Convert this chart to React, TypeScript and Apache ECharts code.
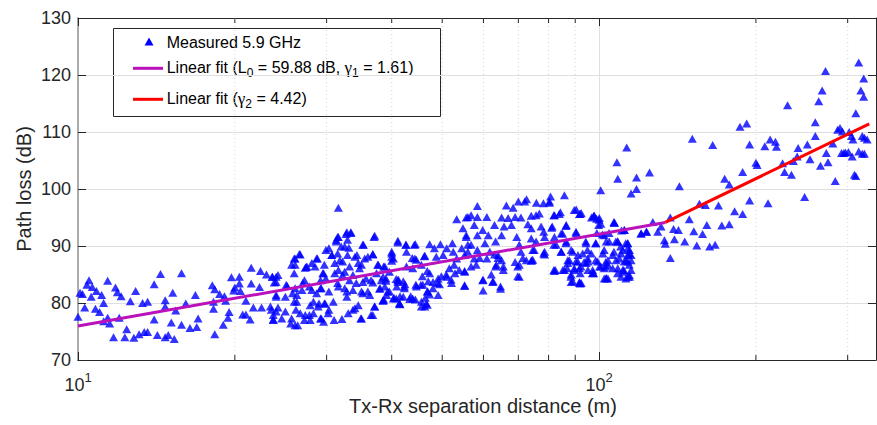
import React, { useEffect, useRef } from 'react';
import * as echarts from 'echarts';

// ---- axis ticks ----
const yMin = 70;
const yMax = 130;
const yStep = 10;
const xMin = 10;
const xMax = 340;
const xTickLabels: { value: number; base: string; exp: string }[] = [
  { value: 10, base: '10', exp: '1' },
  { value: 100, base: '10', exp: '2' },
];
const xMinorTicks = [20, 30, 40, 50, 60, 70, 80, 90, 200, 300];

// ---- texts ----
const xAxisTitle = 'Tx-Rx separation distance (m)';
const yAxisTitle = 'Path loss (dB)';
const measuredLabel = 'Measured 5.9 GHz';
const fitNearLabel = 'Linear fit (L0 = 59.88 dB, γ1 = 1.61)';
const fitFarLabel = 'Linear fit (γ2 = 4.42)';

// ---- fit lines (end points) ----
const fitNear = [[10, 75.98], [134, 94.13]];
const fitFar = [[134, 94.13], [330, 111.43]];

// ---- measured points [distance (m), path loss (dB)] ----
const measuredNear = [
  [10.09, 81.8], [10.2, 81.6], [10.0, 77.6], [10.3, 79.2], [10.5, 84.0], [10.4, 83.2], [10.65, 82.8], [10.6, 81.1],
  [10.8, 79.0], [10.85, 82.1], [11.1, 81.4], [11.2, 80.0], [11.0, 78.4], [11.2, 76.8], [11.4, 77.4], [11.5, 76.4],
  [11.4, 83.9], [11.8, 82.7], [11.9, 81.9], [12.1, 81.2], [12.0, 77.4], [11.7, 74.0], [12.4, 75.4], [12.3, 74.0],
  [12.6, 80.3], [12.9, 82.1], [12.8, 73.9], [13.1, 74.5], [13.3, 80.0], [13.4, 74.9], [13.6, 74.9], [13.6, 80.2],
  [14.0, 83.3], [14.0, 77.1], [14.2, 74.4], [14.4, 85.1], [14.7, 80.5], [14.7, 79.4], [14.7, 74.0], [14.9, 74.4],
  [15.2, 81.8], [15.1, 76.6], [15.3, 73.7], [15.4, 78.7], [15.8, 76.2], [15.8, 85.2], [16.1, 79.9], [16.4, 75.6],
  [16.8, 81.4], [16.9, 75.8], [17.0, 77.3], [18.1, 83.1], [18.2, 79.0], [18.2, 80.2], [18.3, 74.5], [18.3, 82.4],
  [18.7, 81.6], [19.0, 76.2], [19.1, 81.2], [19.2, 80.4], [19.5, 78.4], [19.4, 77.4], [19.7, 84.5], [20.0, 82.7],
  [20.4, 84.6], [19.9, 82.2], [20.4, 83.4], [20.5, 82.1], [21.0, 80.4], [20.7, 78.0], [21.0, 78.0], [21.5, 86.2],
  [21.5, 83.4], [21.7, 79.2], [21.4, 77.1], [22.3, 82.8], [22.4, 85.6], [22.5, 79.2], [23.0, 85.0], [23.4, 79.4],
  [23.6, 84.6], [23.7, 77.9], [23.7, 77.1], [24.0, 83.7], [24.0, 81.1], [24.2, 84.9], [24.2, 79.2],
];

const measuredMid = [
  [31.6, 96.7], [32.8, 92.4], [31.6, 91.6], [31.3, 91.1], [33.4, 92.4], [32.9, 91.1], [32.0, 89.9], [33.1, 89.7],
  [35.2, 90.2], [37.1, 91.8], [41.1, 90.9], [42.6, 90.2], [44.4, 90.3], [47.3, 90.3], [48.3, 89.6], [49.6, 90.3],
  [51.0, 89.6], [52.3, 90.5], [53.3, 94.7], [55.6, 95.0], [54.8, 93.1], [55.6, 91.6], [54.5, 89.6], [56.0, 90.2],
  [26.7, 88.5], [26.1, 87.8], [27.5, 86.4], [28.1, 87.0], [28.8, 87.8], [30.3, 89.6], [30.7, 88.4], [31.8, 87.5],
  [32.9, 88.4], [34.3, 88.4], [36.0, 88.1], [36.8, 88.5], [34.5, 87.0], [37.7, 86.7], [38.8, 86.4], [40.0, 89.0],
  [40.0, 88.1], [40.0, 87.4], [42.7, 89.0], [44.3, 87.8], [46.3, 88.3], [48.7, 88.1], [50.2, 88.4], [52.5, 89.0],
  [53.3, 87.8], [55.2, 88.4], [26.1, 86.7], [26.0, 85.2], [24.0, 84.6], [23.6, 84.6], [23.8, 83.6], [27.3, 86.2],
  [29.6, 85.2], [29.2, 84.0], [31.1, 85.2], [31.6, 85.8], [32.5, 85.5], [33.7, 84.9], [34.7, 86.1], [35.7, 84.3],
  [37.4, 85.2], [38.5, 84.6], [39.6, 85.5], [40.8, 84.2], [42.7, 86.4], [43.9, 86.1], [45.6, 86.7], [47.3, 85.2],
  [49.1, 84.3], [51.0, 84.6], [52.9, 85.2], [55.2, 85.5], [25.2, 83.0], [26.1, 82.6], [27.0, 83.5], [28.1, 82.3],
  [29.2, 82.6], [30.3, 82.0], [31.6, 82.9], [32.8, 82.0], [33.7, 82.3], [35.2, 83.7], [36.8, 83.6], [37.9, 82.5],
  [39.0, 83.9], [41.1, 83.7], [42.4, 83.3], [44.6, 82.9], [45.9, 83.2], [46.9, 82.0], [48.0, 83.7], [49.4, 83.3],
  [52.1, 83.5], [55.2, 83.0], [24.0, 81.4], [25.0, 81.1], [26.3, 80.2], [26.3, 81.4], [27.9, 79.6], [29.0, 79.9],
  [29.8, 79.9], [30.9, 80.2], [32.8, 81.1], [34.5, 79.6], [35.2, 81.7], [36.3, 81.4], [37.1, 79.4], [38.5, 80.4],
  [39.6, 82.0], [40.8, 80.8], [42.1, 81.1], [43.3, 80.7], [45.6, 80.2], [46.6, 79.9], [49.1, 81.4], [23.5, 78.8],
  [24.0, 78.5], [25.0, 78.5], [23.7, 77.0], [24.6, 77.3], [25.6, 76.4], [26.1, 76.1], [26.7, 78.2], [27.3, 77.9],
  [28.3, 78.2], [27.9, 77.0], [29.2, 77.3], [29.6, 76.7], [30.3, 78.8], [31.0, 77.0], [32.1, 77.2], [33.0, 78.2],
  [33.7, 78.8], [34.9, 77.3], [36.5, 77.9], [41.4, 79.9], [46.3, 79.4],
];

const measuredMidDense = [
  [31.5, 91.6], [32.7, 92.1], [33.4, 92.3], [37.0, 91.6], [31.3, 90.8], [32.5, 89.9], [35.3, 90.2], [29.9, 89.3],
  [26.6, 88.6], [26.0, 87.8], [28.7, 87.8], [30.7, 88.4], [31.5, 88.7], [34.0, 88.1], [35.5, 87.8], [36.8, 88.6],
  [25.7, 86.7], [27.4, 86.3], [28.5, 86.4], [29.7, 86.7], [31.1, 87.0], [32.2, 87.3], [33.2, 86.4], [35.0, 86.7],
  [37.6, 86.7], [40.0, 88.7], [41.1, 90.6], [44.2, 90.2], [42.6, 90.2], [25.1, 83.2], [25.8, 81.7], [26.0, 80.2],
  [26.2, 78.8], [25.7, 77.3], [27.2, 84.0], [26.9, 82.3], [27.8, 82.9], [28.7, 81.7], [29.3, 82.6], [29.5, 85.2],
  [29.9, 84.3], [31.5, 83.5], [32.2, 84.9], [32.5, 82.6], [33.2, 84.0], [34.2, 83.5], [35.0, 82.0], [36.0, 82.0],
  [36.5, 84.0], [38.2, 84.0], [38.8, 82.9], [39.1, 81.4], [41.1, 84.0], [42.3, 82.9], [44.5, 83.2], [28.3, 80.2],
  [28.9, 79.4], [29.7, 79.9], [30.2, 78.2], [29.3, 77.3], [27.8, 77.9], [27.2, 77.0], [26.4, 76.1], [34.0, 79.1],
  [35.0, 77.3], [36.8, 77.9], [37.1, 79.4], [38.5, 80.5], [40.3, 80.8], [41.4, 79.9], [43.9, 80.8], [45.6, 79.4],
];

const measuredMidLow = [
  [40.3, 87.8], [38.6, 86.4], [38.0, 82.6], [39.0, 84.3], [39.3, 82.0], [38.6, 80.6], [41.2, 84.1], [40.9, 82.9],
  [42.1, 83.8], [42.3, 82.6], [40.4, 80.9], [41.5, 81.2], [41.5, 79.8], [43.5, 81.2], [44.4, 80.6], [43.8, 87.9],
  [44.6, 87.6], [46.2, 88.2], [45.8, 84.7], [46.8, 85.6], [45.5, 83.2], [47.0, 83.8], [46.8, 82.0], [46.4, 80.9],
  [47.3, 81.5], [46.8, 79.7], [48.0, 82.6], [49.0, 83.5], [49.8, 84.7], [50.9, 85.0], [51.6, 86.1], [52.0, 84.1],
  [52.7, 86.7], [53.9, 85.8], [55.2, 85.6], [55.2, 83.1], [58.1, 86.7], [59.0, 87.9], [59.9, 84.1], [59.9, 82.2],
  [62.1, 85.0], [62.6, 83.8], [63.5, 86.7], [64.0, 87.9], [65.5, 86.4], [64.7, 82.5], [63.0, 88.5], [69.8, 84.7],
  [70.3, 86.7], [71.4, 87.9], [74.6, 87.6], [78.6, 88.5], [82.4, 85.8], [85.2, 85.8], [87.1, 87.0], [88.4, 85.0],
  [89.0, 83.8], [91.7, 83.5], [90.3, 87.3], [91.7, 86.1], [94.5, 87.0], [95.2, 85.8], [97.4, 85.3], [100.2, 86.4],
  [103.2, 84.4], [104.0, 86.7],
];

const measuredUpperMid = [
  [113, 107.3], [108.2, 104.7], [108.6, 101.8], [118, 102.0], [125, 102.9], [118, 100.0], [115.2, 99.2], [100.7, 99.8],
  [85.8, 98.9], [80.7, 98.7], [72.6, 98.2], [72, 97.8], [70, 97.8], [78.2, 97.5], [80.3, 97.8], [66.4, 97.1],
  [68.4, 96.7], [58.4, 97.0], [89.6, 96.3], [92, 95.6], [84.3, 95.9], [82.1, 95.4], [56, 95.1], [56.8, 95.4],
  [58.4, 95.1], [60.9, 95.1], [65, 95.0], [66.9, 94.9], [69, 95.1], [70.8, 95.0], [74.1, 95.3], [75.7, 95.4],
  [76.8, 95.7], [97.8, 95.3], [100, 94.6], [106.8, 94.2], [126.8, 94.2], [131.5, 93.4], [57.6, 93.7], [59.8, 92.8],
  [63, 93.7], [65.7, 93.4], [67.9, 93.7], [73, 93.8], [74.1, 93.1], [77.4, 93.4], [81.1, 93.2], [84.6, 92.2],
  [86.5, 93.7], [90.3, 92.5], [102.3, 91.9], [111.8, 92.8], [120.4, 92.2], [123.4, 92.5], [129.6, 92.5], [133.5, 91.0],
  [55.6, 91.9], [58.4, 91.9], [61.3, 91.9], [65, 91.9], [69.5, 91.6], [74.1, 91.3], [78.6, 91.6], [82.1, 91.6],
  [86.5, 90.8], [94.3, 90.8], [98.5, 90.5], [104.6, 90.8], [108.6, 90.8], [113.5, 90.5], [56.8, 90.2], [60.4, 90.5],
  [63.3, 90.8], [70.3, 90.2], [75.7, 90.8], [82.7, 90.2], [56, 89.0], [58.4, 89.3], [61.7, 89.0], [64, 88.4],
  [70.8, 89.0], [74.6, 89.3], [78.6, 89.0], [84.6, 89.0], [88.4, 89.3], [91.1, 88.4], [95, 89.3], [102.3, 89.3],
  [106.8, 89.0], [111, 89.3], [114.4, 89.3], [115.2, 88.4], [57.6, 87.8], [60.9, 87.8], [65, 87.5], [69, 87.2],
  [72.5, 87.5], [74.1, 87.4], [87.1, 87.5], [93.6, 87.2], [98.5, 87.5], [103, 87.2], [109.4, 87.8], [112.6, 87.5],
  [115.2, 87.5], [56.8, 86.4], [63.3, 86.4], [65.5, 85.8], [69.8, 86.4], [70.3, 84.6], [82.1, 85.6], [85.8, 85.8],
  [89.6, 86.1], [92, 85.2], [97.1, 85.2], [102.3, 86.1], [108.6, 86.1], [111.8, 85.5], [115.2, 85.8], [59.8, 84.0],
  [62.5, 83.7], [64.7, 82.9], [88.4, 83.7], [92, 83.4], [104, 84.3], [112.6, 84.3], [114.4, 84.6],
];

const measuredClusterDense = [
  [75.8, 97.6], [80.3, 97.6], [90.4, 96.4], [91.7, 95.6], [83.9, 95.6], [81.9, 95.4], [97.9, 95.3], [100.1, 94.9],
  [107.0, 94.1], [100.8, 93.9], [86.4, 93.5], [90.4, 92.3], [85.1, 92.2], [81.3, 93.4], [78.3, 92.5], [111.8, 92.8],
  [120.4, 92.2], [123.2, 92.5], [81.9, 90.2], [86.4, 90.5], [94.4, 90.5], [98.6, 90.5], [103.2, 90.8], [108.6, 90.8],
  [113.5, 90.5], [84.6, 89.0], [89.0, 89.0], [93.0, 88.7], [96.6, 88.7], [101.7, 88.7], [106.2, 88.4], [110.2, 88.7],
  [114.3, 88.7], [87.7, 87.5], [91.0, 87.3], [95.1, 87.8], [99.4, 87.3], [104.0, 87.5], [107.8, 87.5], [111.8, 87.3],
  [114.3, 86.7], [86.9, 86.1], [89.7, 85.8], [92.3, 86.4], [97.2, 85.8], [100.8, 86.4], [106.2, 86.1], [111.0, 85.8],
  [114.3, 84.9], [81.9, 85.8], [88.3, 84.6], [91.7, 83.7], [103.2, 84.3], [110.2, 84.6], [78.3, 88.7], [75.1, 89.3],
  [74.3, 87.5],
];

const measuredFarLow = [
  [194.5, 98.0], [211, 97.5], [248, 98.6], [155.8, 97.4], [160, 97.2], [169.5, 97.1], [182, 96.1], [188.6, 95.6],
  [149, 94.7], [137, 95.0], [161, 93.7], [172, 93.6], [177.8, 93.8], [152, 92.6], [158, 92.1], [146, 90.8],
  [154, 90.1], [163, 89.9], [167, 90.2], [139.5, 91.2], [142, 92.8], [139, 93.0], [134, 90.4], [137, 87.9],
  [110.4, 92.7], [107, 94.1], [99.8, 93.7], [97.6, 95.2], [98.9, 94.8], [96.7, 95.0], [92.4, 95.8], [99, 92.3],
  [101.5, 92.0], [104.5, 92.3], [107.7, 90.8], [110, 89.9], [112.5, 90.5], [113.5, 89.6], [113.5, 88.4], [113.5, 87.3],
  [113.5, 84.6], [111.5, 85.8], [108.5, 85.2], [103, 86.4], [102.3, 84.3], [97.6, 85.2], [95.3, 87.3], [92.4, 83.5],
];

const measuredFarHigh = [
  [142.6, 100.5], [151, 108.8], [165.2, 107.7], [174.2, 101.8], [177.8, 100.8], [186.4, 110.9], [192, 111.5], [188.6, 103.0],
  [194.5, 107.8], [200, 104.6], [201, 104.2], [208, 107.5], [213, 108.7], [218, 108.3], [219, 107.4], [230, 114.7],
  [225, 104.5], [227, 103.0], [234, 102.5], [241, 107.2], [251, 107.8], [240, 105.7], [236, 104.9], [254, 105.2],
  [260, 111.7], [260, 109.3], [264, 115.4], [268, 117.3], [272, 120.7], [266, 104.1], [273, 106.3], [275, 104.7],
  [281, 108.0], [284, 101.4], [287, 110.4], [290, 110.7], [293, 110.1], [292, 106.3], [297, 106.4], [302, 110.0],
  [305, 109.3], [306, 105.7], [307, 108.7], [309, 102.5], [311, 113.3], [311, 102.3], [315, 122.2], [318, 117.3],
  [320, 109.3], [322, 119.4], [322, 116.2], [323, 109.0], [315, 106.6], [320, 106.2], [323, 106.2], [327, 108.7],
  [301, 106.5], [295, 106.3],
];

const FONT = '"Liberation Sans", Arial, Helvetica, sans-serif';
const GREEK_FONT = '"Liberation Serif", "DejaVu Serif", serif';
const AXIS_COLOR = '#262626';
const GRID_COLOR = '#dfdfdf';
const PURPLE = '#bb11bb';
const RED = '#ff0000';
const BLUE = '#0000ff';

type Part = { text: string; size: number; family: string; dy: number };

function buildRunText(x: number, y: number, parts: Part[], measure: (t: string, f: string) => number) {
  const out: any[] = [];
  let cx = x;
  parts.forEach((p) => {
    out.push({
      type: 'text',
      x: cx,
      y: y + p.dy,
      style: {
        text: p.text,
        fontSize: p.size,
        fontFamily: p.family,
        fill: '#000',
        align: 'left',
        verticalAlign: 'middle',
      },
    });
    cx += measure(p.text, `${p.size}px ${p.family}`);
  });
  return out;
}

export default function App() {
  const ref = useRef<HTMLDivElement>(null);

  useEffect(() => {
    document.body.style.margin = '0';
    if (!ref.current) return;
    const chart = echarts.init(ref.current, undefined, { renderer: 'svg' });
    const measured = [
      ...measuredNear,
      ...measuredMid,
      ...measuredMidDense,
      ...measuredMidLow,
      ...measuredUpperMid,
      ...measuredClusterDense,
      ...measuredFarLow,
      ...measuredFarHigh,
    ];

    const canvas = document.createElement('canvas');
    const ctx = canvas.getContext('2d');
    const measure = (t: string, f: string) => {
      if (!ctx) return t.length * 8;
      ctx.font = f;
      return ctx.measureText(t).width;
    };

    const xLabelFor = (v: number) => {
      const t = xTickLabels.find((k) => Math.abs(k.value - v) / k.value < 1e-6);
      return t ? `{b|${t.base}}{p|${t.exp}}` : '';
    };

    const main = (text: string): Part => ({ text, size: 16, family: FONT, dy: 0 });
    const sub = (text: string): Part => ({ text, size: 12, family: FONT, dy: 6 });
    const greek = (text: string): Part => ({ text, size: 17, family: GREEK_FONT, dy: 0 });

    const nearParts = [main('Linear fit (L'), sub('0'), main(' = 59.88 dB, '), greek('γ'), sub('1'), main(' = 1.61)')];
    const farParts = [main('Linear fit ('), greek('γ'), sub('2'), main(' = 4.42)')];

    const option: any = {
      animation: false,
      backgroundColor: '#ffffff',
      grid: { left: 78, right: 1, top: 18, bottom: 65, containLabel: false },
      xAxis: [
        {
          type: 'log',
          logBase: 10,
          min: xMin,
          max: xMax,
          position: 'bottom',
          axisLine: { show: true, lineStyle: { color: AXIS_COLOR, width: 1 } },
          axisTick: { show: true, inside: true, length: 8, lineStyle: { color: AXIS_COLOR, width: 1 } },
          axisLabel: {
            margin: 11,
            showMaxLabel: false,
            formatter: (v: number) => xLabelFor(v),
            rich: {
              b: { fontSize: 18, fontFamily: FONT, color: AXIS_COLOR, lineHeight: 23, padding: [5, 0, 0, 0] },
              p: { fontSize: 13, fontFamily: FONT, color: AXIS_COLOR, lineHeight: 6, verticalAlign: 'top' },
            },
          },
          splitLine: { show: true, lineStyle: { color: GRID_COLOR, width: 1 } },
        },
        {
          type: 'log',
          logBase: 10,
          min: xMin,
          max: xMax,
          position: 'top',
          axisLine: { show: true, lineStyle: { color: AXIS_COLOR, width: 1 } },
          axisTick: { show: true, inside: true, length: 8, lineStyle: { color: AXIS_COLOR, width: 1 } },
          axisLabel: { show: false },
          splitLine: { show: false },
        },
      ],
      yAxis: [
        {
          type: 'value',
          min: yMin,
          max: yMax,
          interval: yStep,
          position: 'left',
          axisLine: { show: true, lineStyle: { color: '#ababab', width: 2 } },
          axisTick: { show: true, inside: true, length: 8, lineStyle: { color: AXIS_COLOR, width: 1 } },
          axisLabel: { fontSize: 18, fontFamily: FONT, color: AXIS_COLOR, margin: 7 },
          splitLine: { show: true, lineStyle: { color: GRID_COLOR, width: 1 } },
        },
        {
          type: 'value',
          min: yMin,
          max: yMax,
          interval: yStep,
          position: 'right',
          axisLine: { show: true, lineStyle: { color: AXIS_COLOR, width: 1 } },
          axisTick: { show: true, inside: true, length: 8, lineStyle: { color: AXIS_COLOR, width: 1 } },
          axisLabel: { show: false },
          splitLine: { show: false },
        },
      ],
      series: [
        {
          type: 'custom',
          name: 'minor',
          xAxisIndex: 0,
          yAxisIndex: 0,
          silent: true,
          z: 1,
          clip: false,
          data: xMinorTicks.map((v) => [v, yMin]),
          encode: { x: 0, y: 1 },
          renderItem: (params: any, api: any) => {
            const x = api.coord([api.value(0), yMin])[0];
            const cs = params.coordSys;
            const top = cs.y;
            const bottom = cs.y + cs.height;
            return {
              type: 'group',
              children: [
                {
                  type: 'line',
                  shape: { x1: x, y1: top, x2: x, y2: bottom },
                  style: { stroke: '#d2d2d2', lineWidth: 1, lineDash: [1, 3] },
                },
                {
                  type: 'line',
                  shape: { x1: x, y1: bottom, x2: x, y2: bottom - 5 },
                  style: { stroke: AXIS_COLOR, lineWidth: 1 },
                },
                {
                  type: 'line',
                  shape: { x1: x, y1: top, x2: x, y2: top + 5 },
                  style: { stroke: AXIS_COLOR, lineWidth: 1 },
                },
              ],
            };
          },
        },
        {
          type: 'scatter',
          name: measuredLabel,
          data: measured,
          symbol: 'triangle',
          symbolSize: [9, 8],
          itemStyle: { color: BLUE },
          z: 3,
        },
        {
          type: 'line',
          name: fitNearLabel,
          data: fitNear,
          showSymbol: false,
          lineStyle: { color: PURPLE, width: 3 },
          z: 4,
        },
        {
          type: 'line',
          name: fitFarLabel,
          data: fitFar,
          showSymbol: false,
          lineStyle: { color: RED, width: 3 },
          z: 4,
        },
      ],
      graphic: [
        {
          type: 'text',
          x: 483,
          y: 405.5,
          style: {
            text: xAxisTitle,
            fontSize: 20,
            fontFamily: FONT,
            fill: AXIS_COLOR,
            align: 'center',
            verticalAlign: 'middle',
          },
        },
        {
          type: 'text',
          x: 23.5,
          y: 189,
          rotation: Math.PI / 2,
          style: {
            text: yAxisTitle,
            fontSize: 20,
            fontFamily: FONT,
            fill: AXIS_COLOR,
            align: 'center',
            verticalAlign: 'middle',
          },
        },
        {
          type: 'group',
          z: 100,
          children: [
            {
              type: 'rect',
              shape: { x: 113.5, y: 28.5, width: 327, height: 88 },
              style: { fill: '#ffffff', stroke: AXIS_COLOR, lineWidth: 1 },
            },
            {
              type: 'polygon',
              shape: { points: [[144.5, 45.5], [153.5, 45.5], [149, 37.5]] },
              style: { fill: BLUE },
            },
            {
              type: 'text',
              x: 166.7,
              y: 42.5,
              style: {
                text: measuredLabel,
                fontSize: 16,
                fontFamily: FONT,
                fill: '#000',
                align: 'left',
                verticalAlign: 'middle',
              },
            },
            {
              type: 'line',
              shape: { x1: 133, y1: 68.3, x2: 163, y2: 68.3 },
              style: { stroke: PURPLE, lineWidth: 3 },
            },
            ...buildRunText(166.7, 67, nearParts, measure),
            {
              type: 'line',
              shape: { x1: 133, y1: 99.3, x2: 163, y2: 99.3 },
              style: { stroke: RED, lineWidth: 3 },
            },
            ...buildRunText(166.7, 98.3, farParts, measure),
          ],
        },
      ],
    };

    chart.setOption(option);
    return () => {
      chart.dispose();
    };
  }, []);

  return (
    <div
      ref={ref}
      style={{ position: 'absolute', left: 0, top: 0, width: 877, height: 425 }}
    />
  );
}
